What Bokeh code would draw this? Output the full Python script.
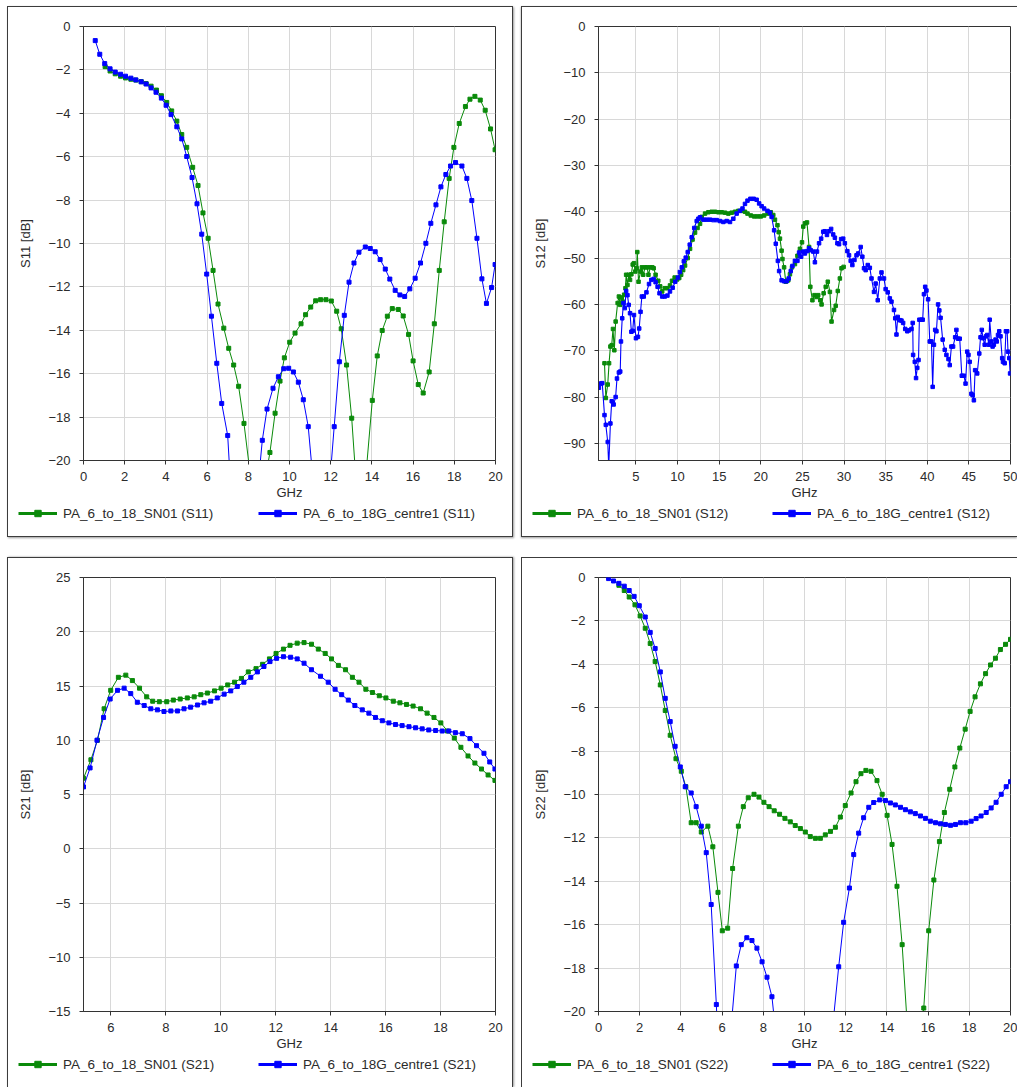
from bokeh.plotting import figure
from bokeh.models import Legend, LegendItem, FixedTicker, Range1d
from bokeh.layouts import row, column
from bokeh.embed import file_html
from bokeh.resources import INLINE

# ---------------- data (GHz, dB) ----------------
s11_sn01 = [(1.05,-1.85),(1.29,-2.05),(1.54,-2.18),(1.80,-2.29),(2.04,-2.37),(2.30,-2.43),(2.54,-2.47),(2.80,-2.54),(3.04,-2.63),(3.28,-2.75),(3.54,-2.93),(3.78,-3.19),(4.04,-3.50),(4.28,-3.89),(4.53,-4.36),(4.77,-4.98),(5.01,-5.57),(5.30,-6.49),(5.56,-7.33),(5.80,-8.59),(6.05,-9.76),(6.29,-11.24),(6.53,-12.79),(6.81,-13.90),(7.05,-14.83),(7.29,-15.60),(7.53,-16.58),(7.79,-18.29),(8.05,-20.3),(8.30,-23.0),(8.55,-24.0),(8.80,-21.0),(9.05,-19.63),(9.30,-17.82),(9.54,-16.34),(9.75,-15.27),(10.01,-14.55),(10.27,-14.13),(10.56,-13.70),(10.78,-13.28),(11.03,-12.93),(11.27,-12.64),(11.51,-12.59),(11.77,-12.59),(12.03,-12.65),(12.29,-13.12),(12.51,-13.93),(12.77,-15.60),(13.02,-18.05),(13.27,-21.5),(13.51,-26.0),(13.76,-20.1),(14.02,-17.23),(14.26,-15.18),(14.50,-14.01),(14.75,-13.35),(14.99,-13.00),(15.28,-13.04),(15.52,-13.34),(15.78,-14.19),(16.00,-15.41),(16.25,-16.50),(16.49,-16.89),(16.78,-15.92),(17.03,-13.70),(17.27,-11.24),(17.51,-9.00),(17.75,-7.00),(17.98,-5.57),(18.24,-4.47),(18.54,-3.69),(18.76,-3.35),(19.00,-3.22),(19.26,-3.39),(19.50,-3.86),(19.76,-4.72),(19.98,-5.68)]
s11_centre1 = [(0.57,-0.65),(0.79,-1.28),(1.03,-1.71),(1.29,-1.95),(1.54,-2.10),(1.80,-2.20),(2.04,-2.29),(2.30,-2.38),(2.54,-2.46),(2.80,-2.55),(3.04,-2.65),(3.28,-2.83),(3.52,-3.03),(3.78,-3.30),(4.01,-3.63),(4.25,-4.06),(4.53,-4.62),(4.77,-5.18),(5.01,-5.99),(5.27,-6.96),(5.51,-8.17),(5.74,-9.57),(5.98,-11.41),(6.21,-13.35),(6.47,-15.52),(6.71,-17.37),(7.00,-18.85),(7.25,-23.0),(7.50,-27.0),(7.75,-30.0),(8.00,-29.0),(8.20,-25.0),(8.44,-21.5),(8.68,-19.07),(8.91,-17.63),(9.20,-16.67),(9.46,-16.14),(9.72,-15.77),(9.96,-15.75),(10.19,-15.92),(10.43,-16.39),(10.67,-17.20),(10.91,-18.44),(11.15,-21.0),(11.40,-28.0),(11.65,-30.0),(11.93,-21.3),(12.17,-18.44),(12.42,-15.45),(12.66,-13.31),(12.89,-11.78),(13.13,-10.90),(13.37,-10.40),(13.68,-10.16),(13.92,-10.23),(14.16,-10.38),(14.40,-10.74),(14.65,-11.18),(14.87,-11.64),(15.13,-12.16),(15.36,-12.37),(15.59,-12.44),(15.84,-12.09),(16.10,-11.60),(16.36,-10.90),(16.62,-9.99),(16.86,-9.07),(17.11,-8.22),(17.35,-7.39),(17.59,-6.82),(17.82,-6.43),(18.06,-6.27),(18.37,-6.43),(18.61,-7.00),(18.85,-8.02),(19.10,-9.76),(19.34,-11.63),(19.56,-12.76),(19.81,-12.03),(19.98,-10.97)]

s12_sn01 = [(1.22,-72.7),(1.38,-80.2),(1.61,-77.3),(1.77,-72.7),(1.93,-69.1),(2.09,-68.8),(2.24,-65.3),(2.40,-69.9),(2.56,-63.7),(2.80,-59.7),(2.95,-58.3),(3.11,-60.1),(3.27,-58.5),(3.43,-59.4),(3.58,-57.9),(3.74,-56.5),(3.82,-53.6),(3.98,-55.8),(4.13,-53.6),(4.29,-54.7),(4.45,-53.5),(4.61,-51.4),(4.76,-51.1),(4.92,-52.9),(5.08,-52.2),(5.16,-48.7),(5.31,-55.1),(5.55,-52.9),(5.71,-52.0),(5.87,-53.6),(6.10,-52.0),(6.34,-52.0),(6.50,-53.6),(6.73,-52.0),(6.97,-52.0),(7.13,-52.2),(7.36,-53.6),(7.68,-54.9),(7.91,-56.1),(8.15,-57.2),(8.46,-56.5),(8.78,-56.5),(9.09,-55.9),(9.33,-54.9),(9.65,-54.2),(9.96,-54.6),(10.20,-54.3),(10.43,-53.6),(10.67,-52.6),(10.90,-51.6),(11.22,-50.0),(11.50,-48.0),(11.80,-46.0),(12.10,-44.5),(12.40,-43.5),(12.70,-42.6),(12.90,-41.1),(13.30,-40.4),(13.70,-40.1),(14.10,-40.0),(14.50,-40.0),(14.90,-40.1),(15.30,-40.1),(15.70,-40.2),(16.10,-40.4),(16.50,-40.2),(16.90,-40.0),(17.30,-39.8),(17.70,-39.8),(18.10,-40.0),(18.40,-40.4),(18.80,-40.8),(19.20,-41.0),(19.60,-41.0),(20.00,-41.0),(20.40,-40.8),(20.85,-40.4),(21.20,-40.1),(21.50,-40.7),(21.70,-41.7),(22.00,-42.9),(22.15,-44.4),(22.30,-45.8),(22.50,-48.4),(22.60,-50.2),(22.80,-52.0),(23.00,-55.1),(23.30,-54.8),(23.50,-53.5),(23.75,-52.0),(24.10,-51.3),(24.40,-49.5),(24.70,-48.0),(24.95,-46.6),(25.10,-43.2),(25.30,-42.5),(25.55,-42.3),(25.80,-47.6),(25.95,-56.2),(26.20,-59.1),(26.45,-58.0),(26.70,-58.4),(26.90,-58.0),(27.15,-59.1),(27.30,-60.0),(27.55,-57.6),(27.80,-56.2),(28.05,-55.1),(28.30,-57.3),(28.50,-63.7),(28.80,-61.2),(29.00,-60.3),(29.25,-57.1),(29.50,-54.4),(29.70,-52.2),(29.95,-51.9)]
s12_centre1 = [(0.55,-78.0),(0.75,-77.1),(0.95,-77.0),(1.22,-83.9),(1.38,-86.0),(1.61,-89.7),(1.73,-95.0),(1.93,-85.7),(2.09,-80.9),(2.32,-81.6),(2.56,-80.0),(2.72,-76.0),(2.95,-74.7),(3.11,-74.5),(3.20,-68.0),(3.35,-63.0),(3.50,-59.7),(3.66,-60.8),(3.82,-57.1),(3.98,-58.0),(4.13,-60.1),(4.29,-61.9),(4.45,-65.9),(4.61,-65.7),(4.76,-62.3),(5.00,-67.3),(5.24,-67.0),(5.39,-65.2),(5.55,-61.6),(5.71,-58.3),(5.94,-58.3),(6.26,-57.4),(6.57,-55.6),(6.85,-54.7),(7.13,-54.5),(7.36,-55.2),(7.60,-56.2),(7.83,-57.6),(8.15,-58.3),(8.46,-58.3),(8.78,-58.1),(9.09,-57.2),(9.41,-56.4),(9.72,-55.1),(10.04,-54.2),(10.28,-53.0),(10.51,-52.0),(10.75,-50.7),(10.98,-49.9),(11.22,-48.7),(11.46,-47.1),(11.70,-45.5),(12.00,-43.5),(12.30,-42.0),(12.50,-41.5),(12.70,-41.2),(13.10,-41.7),(13.50,-41.7),(13.90,-41.7),(14.30,-41.8),(14.70,-41.8),(15.10,-42.0),(15.50,-42.2),(15.90,-42.0),(16.30,-42.2),(16.70,-41.5),(17.10,-40.4),(17.50,-39.8),(17.80,-39.3),(18.10,-38.3),(18.40,-37.6),(18.75,-37.2),(19.15,-37.2),(19.50,-37.4),(19.80,-38.2),(20.10,-38.8),(20.40,-39.3),(20.80,-39.8),(21.10,-40.2),(21.30,-41.1),(21.60,-44.0),(21.80,-46.9),(22.05,-50.6),(22.20,-52.8),(22.50,-54.8),(22.80,-55.0),(23.10,-55.0),(23.35,-54.4),(23.60,-52.8),(23.80,-51.7),(24.10,-50.6),(24.40,-50.6),(24.60,-48.8),(24.85,-49.7),(25.10,-48.6),(25.30,-49.0),(25.55,-48.5),(25.80,-47.9),(26.00,-48.3),(26.30,-48.6),(26.50,-50.9),(26.75,-48.6),(27.00,-46.8),(27.25,-45.8),(27.50,-44.3),(27.70,-44.2),(27.95,-45.0),(28.20,-44.2),(28.45,-43.7),(28.70,-44.9),(28.90,-45.6),(29.20,-46.8),(29.40,-47.0),(29.65,-45.9),(29.90,-45.8),(30.10,-46.8),(30.40,-48.5),(30.60,-49.4),(30.80,-50.6),(31.00,-51.5),(31.25,-50.4),(31.50,-49.4),(31.70,-49.0),(32.00,-47.6),(32.20,-49.7),(32.40,-52.2),(32.60,-52.6),(32.85,-51.5),(33.10,-52.1),(33.30,-54.4),(33.60,-57.3),(33.80,-55.5),(34.05,-59.1),(34.30,-54.4),(34.50,-53.1),(34.80,-54.4),(35.00,-56.7),(35.25,-57.4),(35.50,-58.7),(35.70,-59.4),(36.00,-61.2),(36.15,-63.0),(36.30,-66.5),(36.45,-62.7),(36.70,-63.4),(36.90,-63.5),(37.10,-64.0),(37.35,-65.3),(37.60,-65.8),(37.80,-65.6),(38.10,-65.3),(38.25,-64.0),(38.30,-70.9),(38.50,-72.4),(38.65,-75.9),(38.80,-73.7),(38.95,-72.0),(39.05,-63.3),(39.30,-63.3),(39.45,-63.3),(39.60,-57.8),(39.75,-56.2),(39.90,-57.0),(40.10,-58.9),(40.30,-68.0),(40.50,-68.0),(40.65,-77.8),(40.80,-68.7),(40.95,-65.5),(41.10,-65.8),(41.30,-60.0),(41.45,-61.3),(41.60,-62.9),(41.85,-67.6),(42.10,-69.8),(42.30,-70.9),(42.55,-71.8),(42.70,-73.1),(42.90,-69.1),(43.10,-69.1),(43.35,-67.1),(43.50,-65.5),(43.70,-67.4),(43.90,-67.4),(44.15,-75.4),(44.40,-75.4),(44.60,-77.1),(44.80,-70.2),(44.95,-70.9),(45.10,-72.4),(45.30,-79.3),(45.45,-79.6),(45.60,-80.7),(45.75,-74.2),(46.00,-74.9),(46.25,-70.6),(46.40,-67.1),(46.55,-65.5),(46.70,-67.3),(46.90,-68.7),(47.05,-66.9),(47.20,-66.6),(47.40,-68.7),(47.50,-63.3),(47.70,-68.0),(47.85,-69.1),(48.00,-68.7),(48.20,-67.6),(48.35,-68.0),(48.50,-66.6),(48.65,-65.8),(48.80,-66.9),(49.00,-71.6),(49.10,-72.4),(49.30,-72.7),(49.45,-65.8),(49.60,-65.8),(49.70,-70.2),(49.85,-71.6),(49.95,-74.9)]

s21_sn01 = [(5.00,6.5),(5.27,8.2),(5.51,10.0),(5.75,12.9),(5.99,14.6),(6.27,15.8),(6.54,16.0),(6.78,15.5),(7.04,14.8),(7.30,14.0),(7.52,13.6),(7.76,13.55),(8.03,13.55),(8.27,13.7),(8.52,13.8),(8.78,13.9),(9.03,14.0),(9.27,14.2),(9.51,14.35),(9.77,14.55),(10.01,14.8),(10.25,15.1),(10.50,15.35),(10.75,15.7),(11.00,16.3),(11.28,16.6),(11.52,17.0),(11.77,17.5),(12.01,18.0),(12.28,18.4),(12.52,18.75),(12.78,18.95),(13.03,19.0),(13.30,18.85),(13.55,18.4),(13.80,18.0),(14.03,17.5),(14.28,16.9),(14.54,16.5),(14.79,15.8),(15.03,15.35),(15.28,14.7),(15.52,14.4),(15.77,14.1),(16.01,13.9),(16.28,13.6),(16.52,13.45),(16.76,13.3),(17.00,13.15),(17.27,12.9),(17.51,12.5),(17.76,12.1),(18.01,11.6),(18.25,10.85),(18.50,10.2),(18.74,9.35),(19.00,8.55),(19.25,7.9),(19.49,7.35),(19.73,6.8),(19.98,6.3)]
s21_centre1 = [(5.00,5.7),(5.24,7.45),(5.49,10.0),(5.73,12.1),(5.97,13.8),(6.24,14.6),(6.48,14.8),(6.72,14.3),(6.96,13.5),(7.21,13.2),(7.45,12.9),(7.69,12.8),(7.93,12.65),(8.18,12.7),(8.42,12.7),(8.66,12.9),(8.90,13.05),(9.15,13.25),(9.39,13.45),(9.63,13.6),(9.87,13.9),(10.12,14.25),(10.36,14.55),(10.60,14.95),(10.84,15.35),(11.09,15.8),(11.33,16.3),(11.57,16.8),(11.79,17.25),(12.03,17.55),(12.28,17.7),(12.54,17.65),(12.78,17.5),(13.03,17.1),(13.30,16.5),(13.63,15.9),(13.91,15.35),(14.16,14.7),(14.40,14.2),(14.64,13.7),(14.88,13.2),(15.15,12.8),(15.39,12.5),(15.63,12.1),(15.88,11.8),(16.12,11.6),(16.36,11.45),(16.60,11.35),(16.85,11.25),(17.09,11.15),(17.33,11.05),(17.57,10.95),(17.82,10.9),(18.06,10.85),(18.30,10.85),(18.54,10.7),(18.79,10.6),(19.07,10.15),(19.31,9.5),(19.58,8.8),(19.79,8.0),(19.98,7.35)]

s22_sn01 = [(0.99,-0.36),(1.25,-0.60),(1.49,-0.90),(1.77,-1.26),(2.02,-1.77),(2.27,-2.34),(2.51,-3.04),(2.75,-3.87),(3.00,-4.95),(3.24,-6.13),(3.48,-7.27),(3.76,-8.35),(4.02,-8.93),(4.24,-9.64),(4.50,-11.30),(4.74,-11.30),(4.99,-11.73),(5.31,-11.46),(5.55,-12.41),(5.80,-14.51),(6.01,-16.28),(6.27,-16.16),(6.51,-13.41),(6.79,-11.46),(7.03,-10.56),(7.27,-10.15),(7.55,-9.99),(7.79,-10.12),(8.03,-10.36),(8.28,-10.56),(8.53,-10.75),(8.79,-10.91),(9.05,-11.10),(9.31,-11.26),(9.55,-11.43),(9.80,-11.57),(10.04,-11.73),(10.28,-11.94),(10.53,-12.02),(10.77,-12.02),(11.01,-11.86),(11.26,-11.70),(11.50,-11.51),(11.74,-11.04),(11.98,-10.51),(12.26,-9.93),(12.50,-9.41),(12.74,-9.04),(12.98,-8.89),(13.23,-8.93),(13.52,-9.36),(13.77,-9.99),(14.01,-10.96),(14.25,-12.30),(14.49,-14.23),(14.74,-16.92),(14.98,-20.5),(15.25,-25.0),(15.55,-21.5),(15.79,-19.84),(16.03,-16.28),(16.28,-13.94),(16.55,-12.17),(16.79,-10.83),(17.05,-9.76),(17.30,-8.73),(17.54,-7.86),(17.80,-6.99),(18.04,-6.17),(18.28,-5.50),(18.54,-4.90),(18.79,-4.43),(19.03,-4.03),(19.27,-3.72),(19.51,-3.32),(19.76,-3.08),(20.00,-2.85)]
s22_centre1 = [(0.49,-0.05),(0.73,-0.16),(0.99,-0.27),(1.25,-0.40),(1.49,-0.60),(1.73,-0.87),(1.98,-1.30),(2.27,-1.82),(2.51,-2.53),(2.75,-3.27),(3.00,-4.35),(3.24,-5.57),(3.48,-6.64),(3.72,-7.78),(3.97,-8.73),(4.21,-9.64),(4.50,-9.93),(4.74,-10.56),(4.99,-11.46),(5.23,-12.68),(5.47,-15.07),(5.72,-19.68),(5.96,-25.0),(6.20,-26.0),(6.45,-20.6),(6.69,-17.90),(6.93,-16.92),(7.20,-16.60),(7.45,-16.73),(7.69,-17.08),(7.94,-17.71),(8.18,-18.42),(8.42,-19.32),(8.66,-21.5),(9.00,-26.0),(9.50,-30.0),(10.00,-32.0),(10.50,-30.0),(11.00,-26.0),(11.42,-20.2),(11.66,-17.94),(11.90,-15.89),(12.18,-14.31),(12.39,-12.77),(12.63,-11.78),(12.87,-11.07),(13.12,-10.59),(13.36,-10.37),(13.65,-10.25),(13.93,-10.28),(14.17,-10.39),(14.41,-10.48),(14.66,-10.59),(14.90,-10.70),(15.14,-10.80),(15.38,-10.88),(15.63,-10.99),(15.87,-11.10),(16.11,-11.23),(16.36,-11.30),(16.60,-11.35),(16.84,-11.38),(17.09,-11.42),(17.33,-11.38),(17.57,-11.30),(17.83,-11.30),(18.09,-11.23),(18.33,-11.11),(18.57,-10.99),(18.82,-10.83),(19.06,-10.62),(19.30,-10.36),(19.55,-9.99),(19.79,-9.64),(20.00,-9.41)]

# ticks
s11_xticks = [0, 2, 4, 6, 8, 10, 12, 14, 16, 18, 20]
s11_yticks = [0, -2, -4, -6, -8, -10, -12, -14, -16, -18, -20]
s12_xticks = [5, 10, 15, 20, 25, 30, 35, 40, 45, 50]
s12_yticks = [0, -10, -20, -30, -40, -50, -60, -70, -80, -90]
s21_xticks = [6, 8, 10, 12, 14, 16, 18, 20]
s21_yticks = [25, 20, 15, 10, 5, 0, -5, -10, -15]
s22_xticks = [0, 2, 4, 6, 8, 10, 12, 14, 16, 18, 20]
s22_yticks = [0, -2, -4, -6, -8, -10, -12, -14, -16, -18, -20]

legend_sn01 = "PA_6_to_18_SN01"
legend_centre1 = "PA_6_to_18G_centre1"

GREEN = "#0a8a0a"
BLUE = "#0000ff"
FONT = "Liberation Sans"
TXT = "#2b2b2b"
BORDER = "1px solid #3c3c3c"
MAIN_H = 497
LEG_H = 32


def panel(param, xr, yr, xt, yt, sn01, centre1, width, mb, styles, lw=1.0, ms=4):
    p = figure(width=width, height=MAIN_H,
               x_range=Range1d(*xr), y_range=Range1d(*yr),
               output_backend="svg", toolbar_location=None,
               min_border_left=mb[0], min_border_right=mb[1],
               min_border_top=mb[2], min_border_bottom=mb[3],
               background_fill_color="white", border_fill_color="white")
    p.outline_line_color = "#333333"
    p.outline_line_width = 1
    for ax in (p.xaxis[0], p.yaxis[0]):
        ax.axis_line_color = "#333333"
        ax.major_tick_line_color = "#333333"
        ax.major_tick_out = 4
        ax.major_tick_in = 0
        ax.minor_tick_out = 0
        ax.minor_tick_in = 0
        ax.major_label_text_font = FONT
        ax.major_label_text_font_size = "13px"
        ax.major_label_text_color = TXT
        ax.axis_label_text_font = FONT
        ax.axis_label_text_font_style = "normal"
        ax.axis_label_text_color = TXT
    p.xaxis.ticker = FixedTicker(ticks=xt)
    p.yaxis.ticker = FixedTicker(ticks=yt)
    p.xgrid.ticker = FixedTicker(ticks=xt)
    p.ygrid.ticker = FixedTicker(ticks=yt)
    p.xaxis.axis_label = "GHz"
    p.xaxis.axis_label_text_font_size = "13px"
    p.xaxis.axis_label_standoff = 1
    p.xaxis.major_label_standoff = 7
    p.yaxis.axis_label = f"{param} [dB]"
    p.yaxis.axis_label_text_font_size = "13px"
    p.yaxis.major_label_standoff = 9
    p.yaxis.axis_label_standoff = 12
    for g in (p.xgrid, p.ygrid):
        g.grid_line_color = "#d8d8d8"
        g.grid_line_width = 1

    for data, col in ((sn01, GREEN), (centre1, BLUE)):
        xs = [d[0] for d in data]
        ys = [d[1] for d in data]
        p.line(xs, ys, line_color=col, line_width=lw)
        p.scatter(xs, ys, marker="square", size=ms, color=col)

    # legend strip below the chart, inside the same bordered box
    lg = figure(width=width, height=LEG_H, x_range=Range1d(0, 1), y_range=Range1d(0, 1),
                x_axis_type=None, y_axis_type=None, output_backend="svg",
                toolbar_location=None, min_border_left=0, min_border_right=0,
                min_border_top=0, min_border_bottom=0, outline_line_color=None,
                background_fill_color="white", border_fill_color="white")
    items = []
    for label, col in ((legend_sn01, GREEN), (legend_centre1, BLUE)):
        # hidden placeholder renderers (outside the visible range) that only feed the legend
        rl = lg.line([-2, -1], [-2, -1], line_color=col, line_width=3)
        rs = lg.scatter([-2], [-2], marker="square", size=6, color=col)
        items.append(LegendItem(label=f"{label} ({param})", renderers=[rl, rs]))
    leg = Legend(items=items, location=(10, LEG_H - 17), orientation="horizontal",
                 glyph_width=39, glyph_height=16, label_height=16,
                 label_width=195, label_standoff=6, padding=0, margin=0, spacing=0,
                 border_line_color=None, background_fill_alpha=0,
                 label_text_font=FONT, label_text_font_size="13.5px",
                 label_text_color=TXT)
    lg.add_layout(leg)
    return column(p, row(lg), spacing=0, styles=styles)


full_box = {"border": BORDER, "box-shadow": "1px 1px 2px #9a9a9a"}
right_box = {"border-left": BORDER, "border-top": BORDER, "border-bottom": BORDER,
             "box-shadow": "0px 1px 2px #9a9a9a"}
bl_box = {"border-left": BORDER, "border-top": BORDER, "border-right": BORDER,
          "box-shadow": "1px 0px 2px #9a9a9a"}
br_box = {"border-left": BORDER, "border-top": BORDER}

c1 = panel("S11", (0, 20), (-20, 0), s11_xticks, s11_yticks, s11_sn01, s11_centre1,
           504, (75, 17, 19, 44), full_box)
c2 = panel("S12", (0.5, 50), (-93.7, 0), s12_xticks, s12_yticks, s12_sn01, s12_centre1,
           495, (76, 7, 19, 44), right_box, lw=1.1, ms=3.5)
c3 = panel("S21", (5, 20), (-15, 25), s21_xticks, s21_yticks, s21_sn01, s21_centre1,
           504, (75, 17, 19, 44), bl_box)
c4 = panel("S22", (0, 20), (-20, 0), s22_xticks, s22_yticks, s22_sn01, s22_centre1,
           495, (76, 7, 19, 44), br_box)

root = column(row(c1, c2, spacing=8), row(c3, c4, spacing=8), spacing=20,
              margin=(6, 0, 0, 7))

open("out.html", "w").write(file_html(root, INLINE, title="S-parameters"))
